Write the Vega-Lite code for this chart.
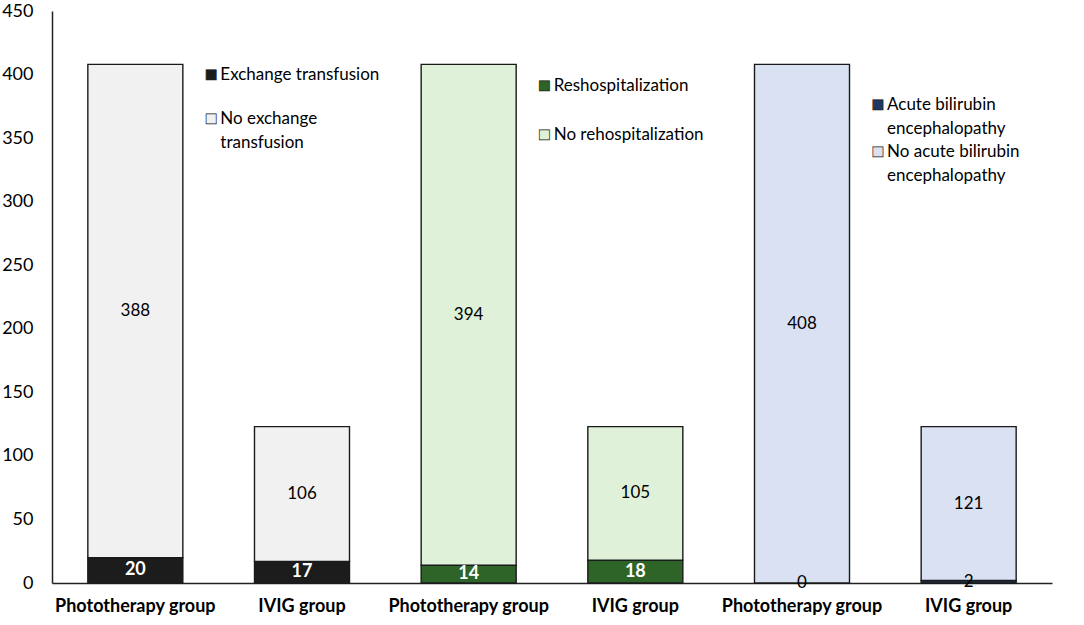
{
  "$schema": "https://vega.github.io/schema/vega-lite/v6.json",
  "width": 1000,
  "height": 572,
  "autosize": {"type": "none"},
  "padding": {"left": 52, "top": 11, "right": 32, "bottom": 42},
  "background": "white",
  "config": {"view": {"stroke": null}, "font": "Lato"},
  "datasets": {
    "bars": [
      {"bar": "P1", "outcome": "Exchange transfusion", "ord": 1, "dark": true, "value": 20},
      {"bar": "P1", "outcome": "No exchange transfusion", "ord": 2, "dark": false, "value": 388},
      {"bar": "I1", "outcome": "Exchange transfusion", "ord": 1, "dark": true, "value": 17},
      {"bar": "I1", "outcome": "No exchange transfusion", "ord": 2, "dark": false, "value": 106},
      {"bar": "P2", "outcome": "Reshospitalization", "ord": 1, "dark": true, "value": 14},
      {"bar": "P2", "outcome": "No rehospitalization", "ord": 2, "dark": false, "value": 394},
      {"bar": "I2", "outcome": "Reshospitalization", "ord": 1, "dark": true, "value": 18},
      {"bar": "I2", "outcome": "No rehospitalization", "ord": 2, "dark": false, "value": 105},
      {"bar": "P3", "outcome": "Acute bilirubin encephalopathy", "ord": 1, "dark": false, "value": 0},
      {"bar": "P3", "outcome": "No acute bilirubin encephalopathy", "ord": 2, "dark": false, "value": 408},
      {"bar": "I3", "outcome": "Acute bilirubin encephalopathy", "ord": 1, "dark": false, "value": 2},
      {"bar": "I3", "outcome": "No acute bilirubin encephalopathy", "ord": 2, "dark": false, "value": 121}
    ],
    "legend": [
      {"bar": "P1", "outcome": "Exchange transfusion", "label": "Exchange transfusion", "ly": 400},
      {"bar": "P1", "outcome": "No exchange transfusion", "label": "No exchange\ntransfusion", "ly": 365},
      {"bar": "P2", "outcome": "Reshospitalization", "label": "Reshospitalization", "ly": 391},
      {"bar": "P2", "outcome": "No rehospitalization", "label": "No rehospitalization", "ly": 352.5},
      {"bar": "P3", "outcome": "Acute bilirubin encephalopathy", "label": "Acute bilirubin\nencephalopathy", "ly": 376},
      {"bar": "P3", "outcome": "No acute bilirubin encephalopathy", "label": "No acute bilirubin\nencephalopathy", "ly": 339}
    ]
  },
  "encoding": {
    "x": {
      "field": "bar",
      "type": "nominal",
      "sort": ["P1", "I1", "P2", "I2", "P3", "I3"],
      "scale": {"paddingInner": 0.43, "paddingOuter": 0.215},
      "axis": {
        "title": null,
        "labelAngle": 0,
        "ticks": false,
        "domainColor": "#222222",
        "domainWidth": 1.5,
        "labelExpr": "indexof(datum.value, 'P') == 0 ? 'Phototherapy group' : 'IVIG group'",
        "labelFont": "Lato",
        "labelFontWeight": "bold",
        "labelFontSize": 18,
        "labelColor": "black",
        "labelPadding": 14
      }
    }
  },
  "layer": [
    {
      "data": {"name": "bars"},
      "transform": [
        {"stack": "value", "groupby": ["bar"], "sort": [{"field": "ord"}], "as": ["y0", "y1"]}
      ],
      "mark": {"type": "bar", "stroke": "#1a1a1a", "strokeWidth": 1.4},
      "encoding": {
        "y": {
          "field": "y0",
          "type": "quantitative",
          "scale": {"domain": [0, 450], "nice": false},
          "axis": {
            "title": null,
            "values": [0, 50, 100, 150, 200, 250, 300, 350, 400, 450],
            "grid": false,
            "ticks": false,
            "domainColor": "#222222",
            "domainWidth": 1.5,
            "labelFontSize": 18,
            "labelColor": "black",
            "labelPadding": 19,
            "labelFont": "Lato"
          }
        },
        "y2": {"field": "y1"},
        "color": {
          "field": "outcome",
          "type": "nominal",
          "legend": null,
          "scale": {
            "domain": ["Exchange transfusion", "No exchange transfusion", "Reshospitalization", "No rehospitalization", "Acute bilirubin encephalopathy", "No acute bilirubin encephalopathy"],
            "range": ["#1c1c1c", "#f1f1f1", "#2f6428", "#dff1d8", "#1f3864", "#d9e1f3"]
          }
        }
      }
    },
    {
      "data": {"name": "bars"},
      "transform": [
        {"stack": "value", "groupby": ["bar"], "sort": [{"field": "ord"}], "as": ["y0", "y1"]},
        {"calculate": "(datum.y0 + datum.y1) / 2", "as": "mid"},
        {"filter": "!datum.dark"}
      ],
      "mark": {"type": "text", "fontSize": 17, "baseline": "middle", "font": "Lato", "fill": "black"},
      "encoding": {
        "y": {"field": "mid", "type": "quantitative"},
        "text": {"field": "value", "type": "quantitative"}
      }
    },
    {
      "data": {"name": "bars"},
      "transform": [
        {"stack": "value", "groupby": ["bar"], "sort": [{"field": "ord"}], "as": ["y0", "y1"]},
        {"calculate": "(datum.y0 + datum.y1) / 2", "as": "mid"},
        {"filter": "datum.dark"}
      ],
      "mark": {"type": "text", "fontSize": 18, "fontWeight": "bold", "baseline": "middle", "font": "Lato", "fill": "white"},
      "encoding": {
        "y": {"field": "mid", "type": "quantitative"},
        "text": {"field": "value", "type": "quantitative"}
      }
    },
    {
      "data": {"name": "legend"},
      "mark": {"type": "text", "text": "■", "fontSize": 21, "baseline": "middle", "align": "center", "dx": 76, "stroke": "#222222", "strokeWidth": 0.7},
      "encoding": {
        "y": {"field": "ly", "type": "quantitative"},
        "color": {"field": "outcome", "type": "nominal", "legend": null}
      }
    },
    {
      "data": {"name": "legend"},
      "mark": {"type": "text", "fontSize": 17, "baseline": "middle", "align": "left", "dx": 85, "lineBreak": "\n", "lineHeight": 24, "fill": "black", "font": "Lato"},
      "encoding": {
        "y": {"field": "ly", "type": "quantitative"},
        "text": {"field": "label"}
      }
    }
  ]
}
